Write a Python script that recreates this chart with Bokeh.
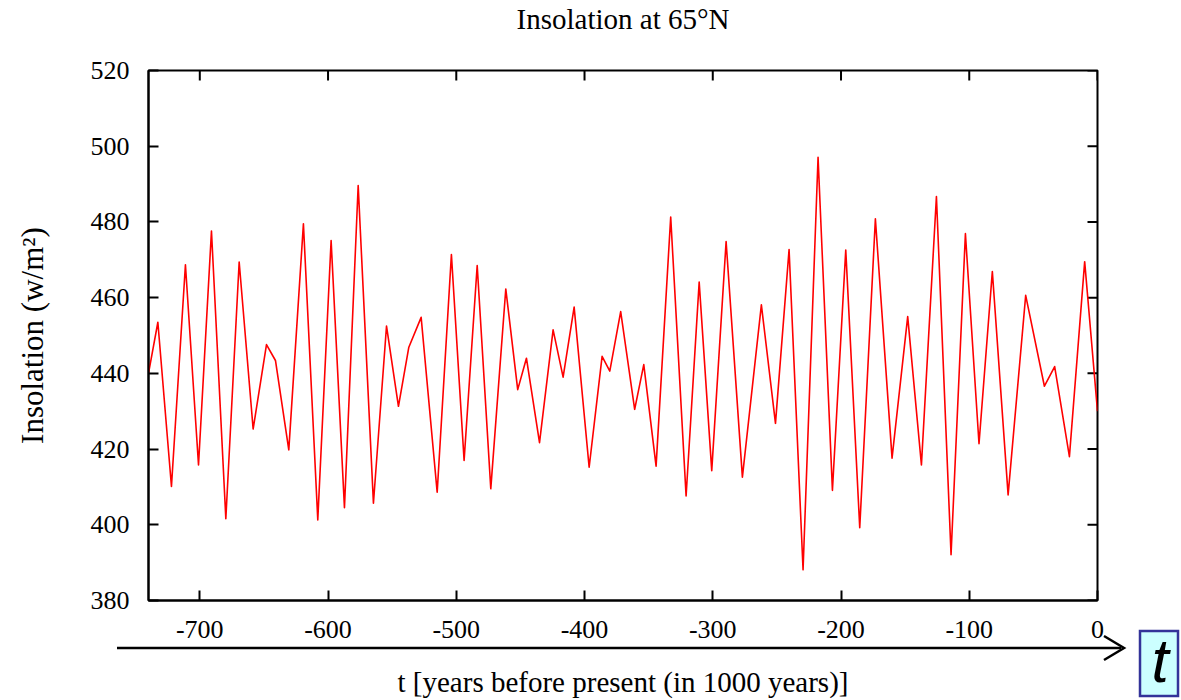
import math
from bokeh.plotting import figure
from bokeh.layouts import row
from bokeh.models import Range1d, FixedTicker, Title, Div
from bokeh.embed import file_html
from bokeh.resources import INLINE

# Time in thousands of years before present (local extrema)
t_kyr = [-740, -732.7, -722.1, -711.2, -701.0, -690.9, -679.7, -669.3, -658.4, -648.0,
         -641.0, -630.6, -619.2, -608.0, -597.6, -587.2, -576.5, -564.6, -554.4, -545.1,
         -537.0, -527.4, -514.9, -503.8, -493.9, -483.7, -473.1, -461.4, -452.1, -445.3,
         -435.1, -424.5, -416.7, -408.1, -396.4, -386.3, -380.3, -371.8, -360.9, -353.8,
         -344.2, -332.8, -320.8, -310.6, -300.8, -289.6, -276.9, -262.1, -251.1, -240.5,
         -229.6, -217.9, -206.7, -196.3, -185.4, -173.2, -160.2, -148.0, -137.3, -125.6,
         -114.2, -103.0, -92.4, -82.0, -69.7, -56.0, -41.4, -33.4, -21.9, -10.0, 0]
insolation = [440, 453.5, 410.1, 468.7, 415.8, 477.6, 401.6, 469.4, 425.3, 447.6,
              443.4, 419.8, 479.5, 401.3, 475.1, 404.5, 489.6, 405.7, 452.5, 431.3,
              446.9, 454.8, 408.6, 471.4, 417.0, 468.5, 409.5, 462.3, 435.7, 444.0,
              421.7, 451.5, 439.0, 457.5, 415.2, 444.5, 440.6, 456.3, 430.5, 442.3,
              415.5, 481.3, 407.6, 464.1, 414.3, 474.8, 412.6, 458.1, 426.8, 472.7,
              388.1, 497.1, 409.1, 472.6, 399.2, 480.8, 417.6, 455.0, 415.8, 486.7,
              392.1, 476.9, 421.4, 466.9, 407.9, 460.6, 436.6, 441.8, 418.0, 469.5, 430]

x_ticks = [-700, -600, -500, -400, -300, -200, -100, 0]
y_ticks = [380, 400, 420, 440, 460, 480, 500, 520]

FONT = "Liberation Serif"

p = figure(width=1181, height=700, output_backend="svg", toolbar_location=None,
           x_range=Range1d(-740, 0), y_range=Range1d(380, 520),
           min_border_left=148, min_border_right=84, min_border_top=70, min_border_bottom=100,
           background_fill_color="white", border_fill_color="white")
xax = p.below[0]
yax = p.left[0]

# blank spacer row between the frame and the title
p.add_layout(Title(text=" ", text_font=FONT, text_font_size="29px", standoff=2), "above")

p.title.text = "Insolation at 65°N"
p.title.align = "center"
p.title.text_font = FONT
p.title.text_font_size = "29px"
p.title.text_font_style = "normal"
p.title.text_color = "black"
p.title.standoff = 0

p.xgrid.visible = False
p.ygrid.visible = False
p.outline_line_color = "black"
p.outline_line_width = 2

for ax in [xax, yax]:
    ax.major_tick_in = 10
    ax.major_tick_out = 0
    ax.minor_tick_line_color = None
    ax.axis_line_color = "black"
    ax.axis_line_width = 2
    ax.major_tick_line_width = 2
    ax.major_tick_line_color = "black"
    ax.major_label_text_font = FONT
    ax.major_label_text_font_size = "26px"
    ax.major_label_text_color = "black"
    ax.axis_label_text_font = FONT
    ax.axis_label_text_font_style = "normal"
    ax.axis_label_text_color = "black"

xax.ticker = FixedTicker(ticks=x_ticks)
xax.major_label_overrides = {t: str(t) for t in x_ticks}
yax.ticker = FixedTicker(ticks=y_ticks)
xax.major_label_standoff = 20
yax.major_label_standoff = 19
xax.axis_label = "t [years before present (in 1000 years)]"
xax.axis_label_text_font_size = "29px"
xax.axis_label_standoff = 25
yax.axis_label = "Insolation (w/m²)"
yax.axis_label_text_font_size = "31px"
yax.axis_label_standoff = 38

# mirrored inward ticks on top and right frame edges
p.scatter(x=x_ticks, y=[y_ticks[-1]] * len(x_ticks), marker="dash", angle=math.pi / 2,
          size=20, line_color="black", line_width=2)
p.scatter(x=[x_ticks[-1]] * len(y_ticks), y=y_ticks, marker="dash",
          size=20, line_color="black", line_width=2)

p.line(t_kyr, insolation, line_color="#ff0000", line_width=1.6, line_join="round")

# transparent overlay for the time arrow and the boxed "t" (drawn outside the plot frame)
overlay_svg = (
    '<svg xmlns="http://www.w3.org/2000/svg" width="1181" height="700" '
    'style="display:block">'
    '<line x1="117" y1="648" x2="1121" y2="648" stroke="black" stroke-width="2.5"/>'
    '<polyline points="1104,636 1124,648 1104,660" fill="none" stroke="black" '
    'stroke-width="2.5" stroke-linejoin="miter"/>'
    '<rect x="1140" y="631" width="38" height="65" fill="#ccffff" stroke="#333399" '
    'stroke-width="2.5"/>'
    '<text x="1160" y="682" text-anchor="middle" font-family="Liberation Serif" '
    'font-style="italic" font-size="62px" fill="black">t</text>'
    '</svg>'
)
overlay = Div(text=overlay_svg, width=1181, height=700, margin=(0, 0, 0, -1181))

layout = row(p, overlay)
open("out.html", "w").write(file_html(layout, INLINE))
